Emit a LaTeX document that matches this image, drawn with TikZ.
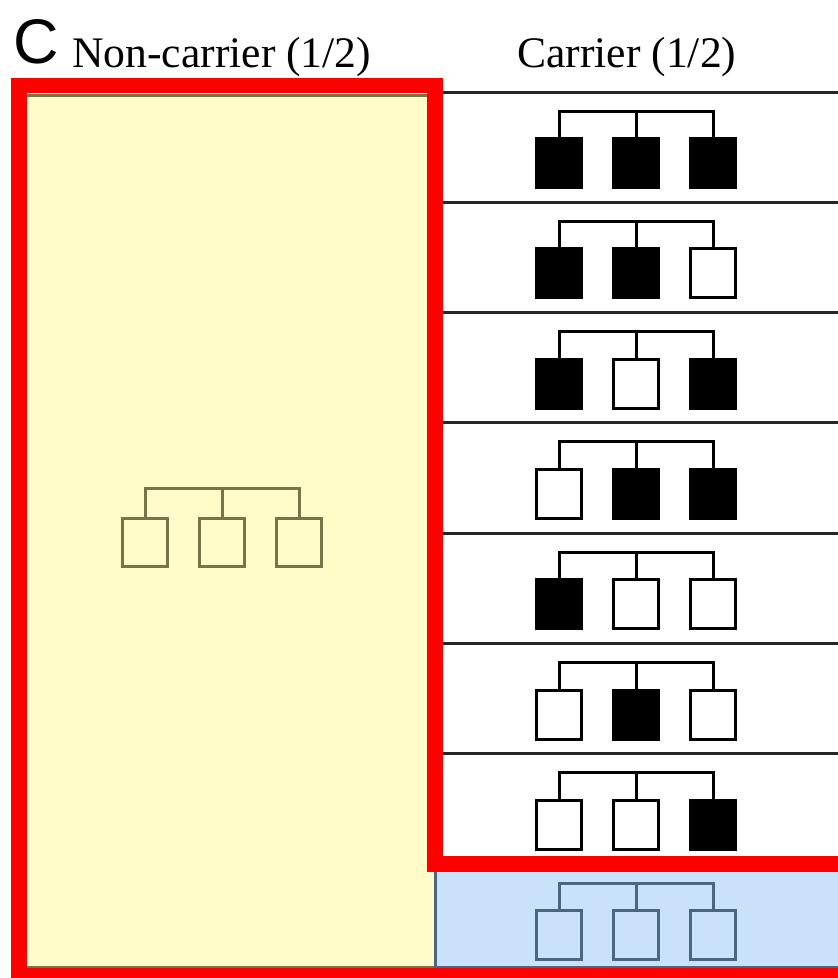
\documentclass[tikz,border=0pt]{standalone}
\usepackage{fontspec}
\setmainfont{Liberation Serif}
\newfontfamily\labelfont{Liberation Sans}
\definecolor{hlyellow}{HTML}{FFFCC9}
\definecolor{hlblue}{HTML}{C9E2FA}
\definecolor{hlred}{HTML}{FF0000}
\definecolor{olivepen}{HTML}{77744A}
\definecolor{slatepen}{HTML}{4D6680}
\begin{document}
\begin{tikzpicture}[x=1pt,y=-1pt,
  sq/.style={draw, rectangle, minimum width=45.5pt, minimum height=49pt, inner sep=0pt, outer sep=0pt, line width=3pt},
  pedline/.style={line width=3pt},
  rowline/.style={line width=3pt, draw=black!85},
  hlframe/.style={draw=hlred, line width=15.5pt, miter limit=10},
  ttl/.style={anchor=base west, inner sep=0pt, font=\fontsize{43.6}{50}\selectfont}]
\useasboundingbox (0,0) rectangle (838,978);
\begin{scope}
\clip (0,0) rectangle (838,978);
% highlight fills
\fill[hlyellow] (19,85) rectangle (435,975);
\fill[hlblue] (435,864) rectangle (850,975);
% table rules seen through the highlights
\draw[olivepen, line width=3pt] (19,95) -- (435,95);
\draw[olivepen, line width=3pt] (19,967) -- (435,967);
\draw[slatepen, line width=2.5pt] (435,967) -- (838,967);
\draw[slatepen, line width=3pt] (435,864) -- (435,968);
% right column rules
\foreach \k in {0,...,6}{
  \pgfmathsetmacro\ry{92+110.3*\k}
  \draw[rowline] (435,\ry) -- (838,\ry);
}
% carrier pedigrees
\foreach \i/\fa/\fb/\fc in {1/black/black/black,2/black/black/white,3/black/white/black,4/white/black/black,5/black/white/white,6/white/black/white,7/white/white/black}{
  \pgfmathsetmacro\rt{92+110.3*(\i-1)}
  \node[sq, fill=\fa] (p\i a) at (559,\rt+71) {};
  \node[sq, fill=\fb] (p\i b) at (636,\rt+71) {};
  \node[sq, fill=\fc] (p\i c) at (713,\rt+71) {};
  \coordinate (p\i bar) at (636,\rt+19);
  \draw[pedline] (p\i a.north) |- (p\i bar) -| (p\i c.north);
  \draw[pedline] (p\i b.north) -- (p\i b.north |- p\i bar);
}
% blue (last row) pedigree
\node[sq, draw=slatepen] (q a) at (559,935) {};
\node[sq, draw=slatepen] (q b) at (636,935) {};
\node[sq, draw=slatepen] (q c) at (713,935) {};
\coordinate (q bar) at (636,883);
\draw[pedline, slatepen] (q a.north) |- (q bar) -| (q c.north);
\draw[pedline, slatepen] (q b.north) -- (q b.north |- q bar);
% non-carrier pedigree
\node[sq, draw=olivepen, minimum height=48pt] (n a) at (145,542.5) {};
\node[sq, draw=olivepen, minimum height=48pt] (n b) at (222,542.5) {};
\node[sq, draw=olivepen, minimum height=48pt] (n c) at (299,542.5) {};
\coordinate (n bar) at (222,488);
\draw[pedline, olivepen] (n a.north) |- (n bar) -| (n c.north);
\draw[pedline, olivepen] (n b.north) -- (n b.north |- n bar);
% red frame
\draw[hlframe] (850,864) -- (435,864) -- (435,85.5) -- (19,85.5) -- (19,975.5) -- (850,975.5);
\end{scope}
% titles
\node[ttl, font=\labelfont\fontsize{63}{63}\selectfont] (lbl) at (13,63) {C};
\node[ttl] (nc) at (72,67) {Non-carrier (1/2)};
\node[ttl] (ca) at (517,67) {Carrier (1/2)};
\end{tikzpicture}
\end{document}
